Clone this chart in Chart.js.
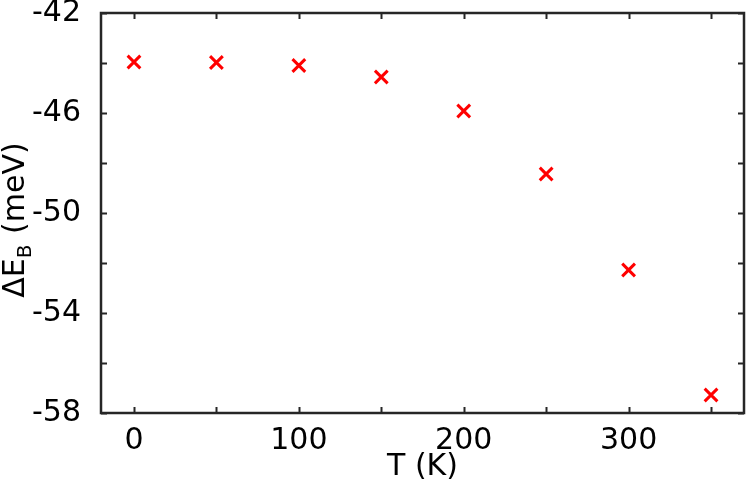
<!DOCTYPE html>
<html>
<head>
<meta charset="utf-8">
<script src="https://cdn.jsdelivr.net/npm/chart.js@4"></script>
<style>
    html, body { margin: 0; padding: 0; background: #fff; }
    #wrap { width: 747px; height: 483px; }
</style>
</head>
<body>
<div id="wrap"><canvas id="chart" width="747" height="483"></canvas></div>
<script>
// Temperature (K) and binding energy shift (meV)
const temps = [0, 50, 100, 150, 200, 250, 300, 350];
const deltaEB = [-43.96, -43.98, -44.1, -44.56, -45.92, -48.44, -52.28, -57.28];

// Axis ticks
const xTicks = [0, 50, 100, 150, 200, 250, 300, 350];
const yTicks = [-58, -56, -54, -52, -50, -48, -46, -44, -42];

const FONT = 'DejaVu Sans';
const AXIS_COLOR = '#262626';

// Draws the box, inward ticks on all four sides and the axis titles
const frameAndTitles = {
    id: 'frameAndTitles',
    afterDraw(chart) {
        const ctx = chart.ctx;
        const area = chart.chartArea;
        const x = chart.scales.x;
        const y = chart.scales.y;
        const len = 6;
        ctx.save();
        ctx.strokeStyle = AXIS_COLOR;
        ctx.lineWidth = 2;
        ctx.beginPath();
        x.ticks.forEach(t => {
            const px = Math.round(x.getPixelForValue(t.value)) + 0.5;
            ctx.moveTo(px, area.bottom); ctx.lineTo(px, area.bottom - len);
            ctx.moveTo(px, area.top); ctx.lineTo(px, area.top + len);
        });
        y.ticks.forEach(t => {
            const py = Math.round(y.getPixelForValue(t.value)) + 0.5;
            ctx.moveTo(area.left, py); ctx.lineTo(area.left + len, py);
            ctx.moveTo(area.right, py); ctx.lineTo(area.right - len, py);
        });
        ctx.stroke();
        ctx.lineWidth = 2.5;
        ctx.strokeRect(area.left, area.top, area.right - area.left, area.bottom - area.top);

        // x title
        ctx.fillStyle = '#000';
        ctx.font = `30px "${FONT}"`;
        ctx.textAlign = 'center';
        ctx.textBaseline = 'alphabetic';
        ctx.fillText('T (K)', (area.left + area.right) / 2, 475);

        // y title with subscript
        ctx.translate(24, 220);
        ctx.rotate(-Math.PI / 2);
        const big = `30px "${FONT}"`;
        const small = `20px "${FONT}"`;
        ctx.font = big;
        const w1 = ctx.measureText('\u0394E').width;
        const w3 = ctx.measureText(' (meV)').width;
        ctx.font = small;
        const w2 = ctx.measureText('B').width + 1;
        let cx = -(w1 + w2 + w3) / 2;
        ctx.textAlign = 'left';
        ctx.font = big;
        ctx.fillText('\u0394E', cx, 0);
        cx += w1;
        ctx.font = small;
        ctx.fillText('B', cx, 7);
        cx += w2;
        ctx.font = big;
        ctx.fillText(' (meV)', cx, 0);
        ctx.restore();
    }
};

new Chart(document.getElementById('chart'), {
    type: 'scatter',
    data: {
        datasets: [{
            data: temps.map((t, i) => ({ x: t, y: deltaEB[i] })),
            pointStyle: 'crossRot',
            pointRadius: 9,
            pointHoverRadius: 9,
            borderWidth: 3,
            borderColor: '#ff0000',
            backgroundColor: '#ff0000'
        }]
    },
    options: {
        responsive: false,
        animation: false,
        events: [],
        layout: { autoPadding: false, padding: { top: 13, right: 3, left: 0, bottom: 0 } },
        plugins: { legend: { display: false }, tooltip: { enabled: false } },
        scales: {
            x: {
                type: 'linear',
                min: -20,
                max: 370,
                border: { display: false },
                grid: { display: false },
                afterBuildTicks: s => { s.ticks = xTicks.map(v => ({ value: v })); },
                afterFit: s => {
                    s.height = 70;
                    s.paddingLeft = 0;
                    s.paddingRight = 0;
                },
                ticks: {
                    padding: 2,
                    maxRotation: 0,
                    color: '#000',
                    font: { family: FONT, size: 30 },
                    callback: v => (v % 100 === 0 ? String(v) : '')
                }
            },
            y: {
                type: 'linear',
                min: -58,
                max: -42,
                border: { display: false },
                grid: { display: false },
                afterBuildTicks: s => { s.ticks = yTicks.map(v => ({ value: v })); },
                afterFit: s => {
                    s.width = 101;
                    s.paddingTop = 0;
                    s.paddingBottom = 0;
                },
                ticks: {
                    padding: 12,
                    color: '#000',
                    font: { family: FONT, size: 30 },
                    callback: v => (v % 4 === 2 || v % 4 === -2 ? String(v) : '')
                }
            }
        }
    },
    plugins: [frameAndTitles]
});
</script>
</body>
</html>
